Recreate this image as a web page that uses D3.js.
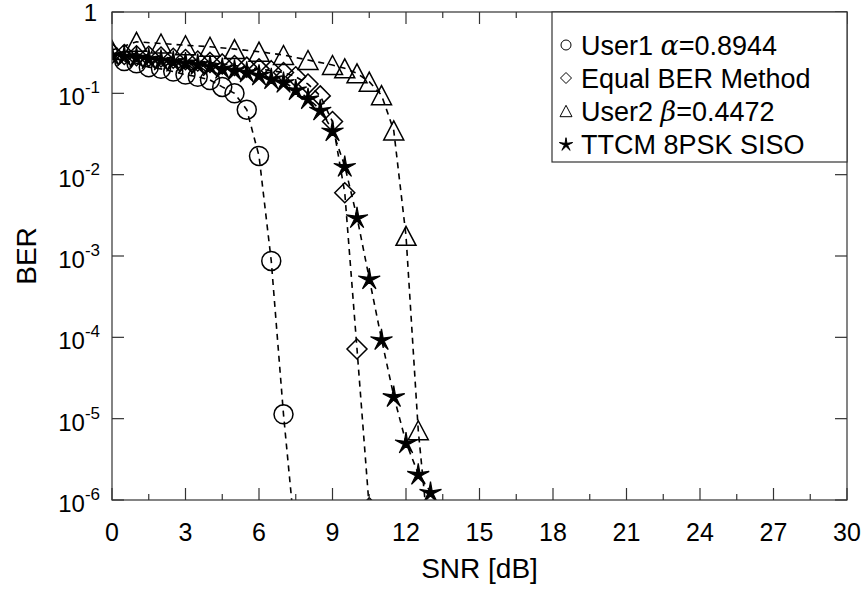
<!DOCTYPE html>
<html>
<head>
<meta charset="utf-8">
<script src="https://cdn.jsdelivr.net/npm/d3@7"></script>
<style>
  body { margin: 0; background: #fff; }
  svg { font-family: "Liberation Sans", Arial, sans-serif; }
</style>
</head>
<body>
<svg id="chart" width="863" height="589"></svg>
<script>
// data
var user1Snr = [0.5, 1, 1.5, 2, 2.5, 3, 3.5, 4, 4.5, 5, 5.5, 6, 6.5, 7, 7.5];
var user1Ber = [0.25, 0.234, 0.21, 0.2, 0.185, 0.17, 0.16, 0.146, 0.12, 0.1, 0.063, 0.017, 8.7e-4, 1.13e-5, 3e-7];

var equalSnr = [0, 0.5, 1, 1.5, 2, 2.5, 3, 3.5, 4, 4.5, 5, 5.5, 6, 6.5, 7, 7.5, 8, 8.5, 9, 9.5, 10, 10.5];
var equalBer = [0.31, 0.3, 0.29, 0.285, 0.28, 0.27, 0.26, 0.25, 0.24, 0.23, 0.22, 0.21, 0.2, 0.19, 0.18, 0.16, 0.13, 0.093, 0.045, 6e-3, 7.2e-5, 8e-7];

var user2Snr = [0, 1, 2, 3, 4, 5, 6, 7, 8, 9, 9.5, 10, 10.5, 11, 11.5, 12, 12.5, 13];
var user2Ber = [0.34, 0.43, 0.41, 0.39, 0.374, 0.35, 0.325, 0.296, 0.257, 0.223, 0.203, 0.176, 0.139, 0.095, 0.035, 1.77e-3, 7.2e-6, 2e-7];

var ttcmSnr = [0, 0.5, 1, 1.5, 2, 2.5, 3, 3.5, 4, 4.5, 5, 5.5, 6, 6.5, 7, 7.5, 8, 8.5, 9, 9.5, 10, 10.5, 11, 11.5, 12, 12.5, 13];
var ttcmBer = [0.3, 0.29, 0.28, 0.27, 0.26, 0.25, 0.24, 0.23, 0.22, 0.205, 0.195, 0.185, 0.17, 0.153, 0.138, 0.112, 0.087, 0.063, 0.035, 0.0128, 3.0e-3, 5.3e-4, 9.5e-5, 1.9e-5, 5.1e-6, 2.1e-6, 1.26e-6];

var xTicks = [0, 3, 6, 9, 12, 15, 18, 21, 24, 27, 30];
var xMinorTicks = [1.5, 4.5, 7.5, 10.5, 13.5, 16.5, 19.5, 22.5, 25.5, 28.5];
var yExponents = [0, -1, -2, -3, -4, -5, -6];
var legendLabels = [
  ["User1 ", "\u03b1", "=0.8944"],
  ["Equal BER Method", "", ""],
  ["User2 ", "\u03b2", "=0.4472"],
  ["TTCM 8PSK SISO", "", ""]
];

var plotLeft = 112, plotTop = 12, plotRight = 847, plotBottom = 500;
var axisColor = "#333";

var svg = d3.select("#chart");

var x = d3.scaleLinear().domain([0, 30]).range([plotLeft, plotRight]);
var y = d3.scaleLog().domain([1e-6, 1]).range([plotBottom, plotTop]);

svg.append("defs").append("clipPath").attr("id", "clip")
  .append("rect")
  .attr("x", plotLeft).attr("y", plotTop)
  .attr("width", plotRight - plotLeft).attr("height", plotBottom - plotTop);

// marker shapes
function markerPath(kind, s) {
  if (kind === "circle") {
    return "M" + s + ",0A" + s + "," + s + " 0 1,1 " + (-s) + ",0A" + s + "," + s + " 0 1,1 " + s + ",0Z";
  }
  if (kind === "diamond") {
    return "M0," + (-s) + "L" + s + ",0L0," + s + "L" + (-s) + ",0Z";
  }
  if (kind === "triangle") {
    var h = s * 0.95;
    return "M0," + (-h) + "L" + s + "," + h + "L" + (-s) + "," + h + "Z";
  }
  // pentagram, thin arms
  var pts = [];
  for (var i = 0; i < 10; i++) {
    var r = i % 2 === 0 ? s : s * 0.24;
    var a = -Math.PI / 2 + i * Math.PI / 5;
    pts.push([r * Math.cos(a), r * Math.sin(a) + s * 0.1]);
  }
  return "M" + pts.map(function(p) { return p[0].toFixed(2) + "," + p[1].toFixed(2); }).join("L") + "Z";
}

var series = [
  { snr: user1Snr, ber: user1Ber, kind: "circle", size: 9.5, fill: "none", sw: 1.5 },
  { snr: equalSnr, ber: equalBer, kind: "diamond", size: 10, fill: "none", sw: 1.5 },
  { snr: user2Snr, ber: user2Ber, kind: "triangle", size: 10, fill: "none", sw: 1.5 },
  { snr: ttcmSnr, ber: ttcmBer, kind: "star", size: 11.5, fill: "#000", sw: 1.2 }
];

var plot = svg.append("g").attr("clip-path", "url(#clip)");

var line = d3.line()
  .x(function(d) { return x(d[0]); })
  .y(function(d) { return y(d[1]); });

series.forEach(function(s) {
  var pts = s.snr.map(function(v, i) { return [v, s.ber[i]]; });
  var g = plot.append("g");
  g.append("path")
    .datum(pts)
    .attr("d", line)
    .attr("fill", "none")
    .attr("stroke", "#000")
    .attr("stroke-width", 1.6)
    .attr("stroke-dasharray", "6,5");
  g.selectAll("path.mk")
    .data(pts)
    .enter()
    .append("path")
    .attr("class", "mk")
    .attr("d", markerPath(s.kind, s.size))
    .attr("transform", function(d) { return "translate(" + x(d[0]) + "," + y(d[1]) + ")"; })
    .attr("fill", s.fill)
    .attr("stroke", "#000")
    .attr("stroke-linejoin", "miter")
    .attr("stroke-width", s.sw);
});

// frame
svg.append("rect")
  .attr("x", plotLeft).attr("y", plotTop)
  .attr("width", plotRight - plotLeft).attr("height", plotBottom - plotTop)
  .attr("fill", "none").attr("stroke", axisColor).attr("stroke-width", 1.2);

// x ticks top and bottom
xTicks.concat(xMinorTicks).forEach(function(t) {
  var len = xTicks.indexOf(t) >= 0 ? 12 : 6;
  svg.append("line").attr("x1", x(t)).attr("x2", x(t))
    .attr("y1", plotBottom).attr("y2", plotBottom - len)
    .attr("stroke", axisColor).attr("stroke-width", 1.2);
  svg.append("line").attr("x1", x(t)).attr("x2", x(t))
    .attr("y1", plotTop).attr("y2", plotTop + len)
    .attr("stroke", axisColor).attr("stroke-width", 1.2);
});

svg.selectAll("text.xlab")
  .data(xTicks)
  .enter()
  .append("text")
  .attr("class", "xlab")
  .attr("x", function(d) { return x(d); })
  .attr("y", 541)
  .attr("text-anchor", "middle")
  .attr("font-size", 25)
  .text(function(d) { return d; });

// y ticks left and right
yExponents.forEach(function(e) {
  var yy = y(Math.pow(10, e));
  svg.append("line").attr("x1", plotLeft).attr("x2", plotLeft + 12)
    .attr("y1", yy).attr("y2", yy)
    .attr("stroke", axisColor).attr("stroke-width", 1.2);
  svg.append("line").attr("x1", plotRight).attr("x2", plotRight - 12)
    .attr("y1", yy).attr("y2", yy)
    .attr("stroke", axisColor).attr("stroke-width", 1.2);
});

yExponents.forEach(function(e) {
  var yy = y(Math.pow(10, e));
  if (e === 0) {
    svg.append("text").attr("x", 97).attr("y", yy + 9)
      .attr("text-anchor", "end").attr("font-size", 24).text("1");
  } else {
    var t = svg.append("text").attr("x", 100).attr("y", yy + 12)
      .attr("text-anchor", "end").attr("font-size", 24);
    t.append("tspan").text("10");
    t.append("tspan").attr("dy", -12).attr("font-size", 17).text(e);
  }
});

// axis titles
svg.append("text")
  .attr("x", (plotLeft + plotRight) / 2).attr("y", 578)
  .attr("text-anchor", "middle").attr("font-size", 28)
  .text("SNR [dB]");
svg.append("text")
  .attr("transform", "translate(36," + ((plotTop + plotBottom) / 2) + ") rotate(-90)")
  .attr("text-anchor", "middle").attr("font-size", 28)
  .text("BER");

// legend
var leg = svg.append("g");
leg.append("rect")
  .attr("x", 552).attr("y", plotTop)
  .attr("width", plotRight - 552).attr("height", 150)
  .attr("fill", "#fff").attr("stroke", axisColor).attr("stroke-width", 1.2);

var legSizes = [5, 5.5, 6, 7];
series.forEach(function(s, i) {
  var cy = 45 + i * 33;
  leg.append("path")
    .attr("d", markerPath(s.kind, legSizes[i]))
    .attr("transform", "translate(566," + cy + ")")
    .attr("fill", s.fill)
    .attr("stroke", "#000")
    .attr("stroke-width", 1);
  var t = leg.append("text")
    .attr("x", 581).attr("y", cy + 10)
    .attr("font-size", 27);
  t.append("tspan").text(legendLabels[i][0]);
  if (legendLabels[i][1]) {
    t.append("tspan")
      .attr("font-family", "'DejaVu Serif', 'Liberation Serif', serif")
      .attr("font-style", "italic")
      .text(legendLabels[i][1]);
    t.append("tspan").text(legendLabels[i][2]);
  }
});
</script>
</body>
</html>
